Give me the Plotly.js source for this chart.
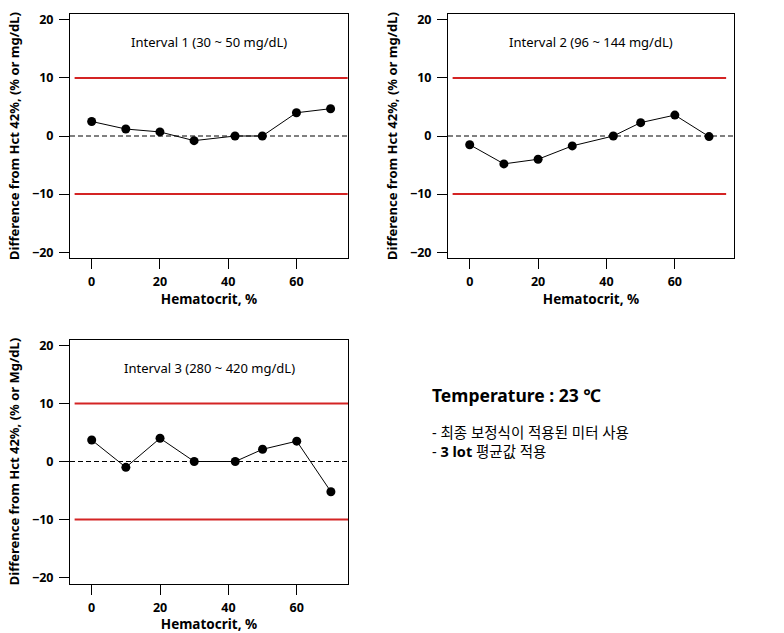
<!DOCTYPE html>
<html>
<head>
<meta charset="utf-8">
<script src="https://cdn.plot.ly/plotly-3.0.1.min.js"></script>
<style>html,body{margin:0;padding:0;background:#fff;}#chart{width:784px;height:633px;}</style>
</head>
<body>
<div id="chart"></div>
<script>
// ---- data ----
const hematocrit = [0, 10, 20, 30, 42, 50, 60, 70];
const interval1 = [2.5, 1.2, 0.7, -0.8, 0.0, 0.0, 4.0, 4.7];
const interval2 = [-1.5, -4.8, -4.0, -1.7, 0.0, 2.3, 3.6, -0.1];
const interval3 = [3.7, -1.0, 4.0, 0.0, 0.0, 2.1, 3.5, -5.2];
const panelTitles = ["Interval 1 (30 ~ 50 mg/dL)", "Interval 2 (96 ~ 144 mg/dL)", "Interval 3 (280 ~ 420 mg/dL)"];
const yTitles = ["Difference from Hct 42%, (% or mg/dL)", "Difference from Hct 42%, (% or mg/dL)", "Difference from Hct 42%, (% or Mg/dL)"];
const xTitle = "Hematocrit, %";
const limitUpper = 10;
const limitLower = -10;
const limitX = [-5, 75];
const refY = 0;
const xTicks = [0, 20, 40, 60];
const yTicks = [-20, -10, 0, 10, 20];
const noteTitle = "Temperature : 23 ℃";
const noteLines = ["- 최종 보정식이 적용된 미터 사용", "- <b>3 lot</b> 평균값 적용"];

// ---- layout helpers ----
const W = 784, H = 633;
const FONT = "Noto Sans, Noto Sans CJK KR, sans-serif";
const panels = [
  {x: [70, 348], y: [14, 258], xr: [-6.35, 75.1], vals: interval1},
  {x: [448, 734], y: [14, 258], xr: [-6.35, 77.3], vals: interval2},
  {x: [70, 348], y: [339.5, 583.5], xr: [-6.35, 75.0], vals: interval3}
];
const red = "#d42424";

const data = [];
const layout = {
  width: W, height: H,
  margin: {l: 0, r: 0, t: 0, b: 0},
  paper_bgcolor: "#fff", plot_bgcolor: "#fff",
  showlegend: false,
  font: {family: FONT, color: "#000", size: 12},
  annotations: [], shapes: []
};

panels.forEach((p, i) => {
  const n = i === 0 ? "" : String(i + 1);
  const xa = "x" + n, ya = "y" + n;
  // limit lines
  [limitUpper, limitLower].forEach(v => {
    data.push({x: limitX, y: [v, v], xaxis: xa, yaxis: ya, mode: "lines",
      line: {color: red, width: 2}, hoverinfo: "skip"});
  });
  // data
  data.push({x: hematocrit, y: p.vals, xaxis: xa, yaxis: ya, mode: "lines+markers",
    line: {color: "#000", width: 1}, marker: {color: "#000", size: 9}});
  const axBase = {
    showline: true, mirror: true, linecolor: "#000", linewidth: 1,
    ticks: "outside", ticklen: 10, tickwidth: 1, tickcolor: "#000",
    showgrid: false, zeroline: false,
    tickfont: {family: FONT, size: 12.5, color: "#000", weight: "bold"}
  };
  layout["xaxis" + n] = Object.assign({}, axBase, {
    domain: [p.x[0] / W, p.x[1] / W], range: p.xr, anchor: ya,
    tickvals: xTicks, ticklabelstandoff: 2,
    title: {text: xTitle, font: {family: FONT, size: 13.5, weight: "bold"}, standoff: 5}
  });
  layout["yaxis" + n] = Object.assign({}, axBase, {
    domain: [1 - p.y[1] / H, 1 - p.y[0] / H], range: [-21, 21], anchor: xa,
    tickvals: yTicks, ticklabelstandoff: 3,
    title: {text: yTitles[i], font: {family: FONT, size: 13, weight: "bold"}, standoff: 9}
  });
  layout.shapes.push({type: "line", xref: xa + " domain", yref: ya, x0: 0, x1: 1, y0: refY, y1: refY,
    line: {color: "#000", width: 1, dash: "5px,3px"}});
  layout.annotations.push({xref: xa + " domain", yref: ya + " domain", x: 0.5, y: 1 - 28 / 244,
    text: panelTitles[i], showarrow: false, xanchor: "center", yanchor: "middle",
    font: {family: FONT, size: 13, color: "#000"}});
});

layout.annotations.push({xref: "paper", yref: "paper", x: 430 / W, y: 1 - 395 / H, xanchor: "left", yanchor: "middle",
  text: "<b>" + noteTitle + "</b>", showarrow: false, font: {family: FONT, size: 17.5, color: "#000"}});
layout.annotations.push({xref: "paper", yref: "paper", x: 430 / W, y: 1 - 441 / H, xanchor: "left", yanchor: "middle", align: "left",
  text: noteLines.join("<br>"), showarrow: false, font: {family: FONT, size: 14.5, color: "#000"}});

Plotly.newPlot("chart", data, layout, {displayModeBar: false, staticPlot: true});
</script>
</body>
</html>
